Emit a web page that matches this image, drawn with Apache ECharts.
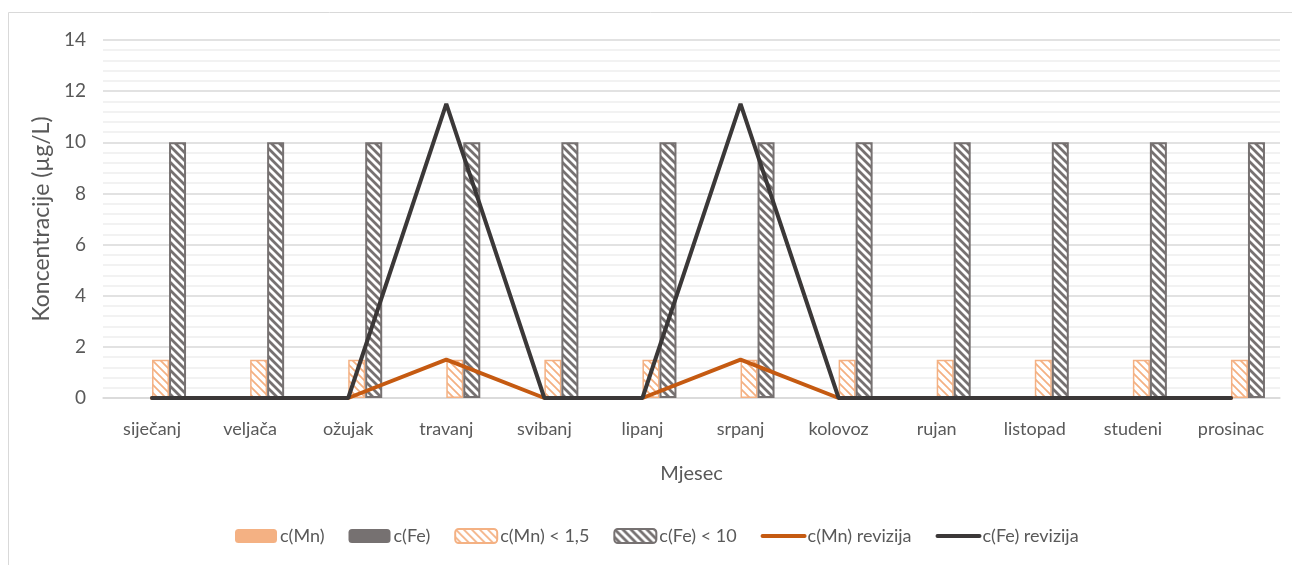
<!DOCTYPE html>
<html>
<head>
<meta charset="utf-8">
<script src="https://cdn.jsdelivr.net/npm/echarts@6/dist/echarts.min.js"></script>
<style>
  html, body { margin: 0; padding: 0; background: #fff; }
  #main { width: 1292px; height: 565px; }
</style>
</head>
<body>
<div id="main"></div>
<script>
// podaci
var months = ['siječanj', 'veljača', 'ožujak', 'travanj', 'svibanj', 'lipanj', 'srpanj', 'kolovoz', 'rujan', 'listopad', 'studeni', 'prosinac'];
var mn = [null, null, null, null, null, null, null, null, null, null, null, null];
var fe = [null, null, null, null, null, null, null, null, null, null, null, null];
var mnLimit = [1.5, 1.5, 1.5, 1.5, 1.5, 1.5, 1.5, 1.5, 1.5, 1.5, 1.5, 1.5];
var feLimit = [10, 10, 10, 10, 10, 10, 10, 10, 10, 10, 10, 10];
var mnRev = [0, 0, 0, 1.5, 0, 0, 1.5, 0, 0, 0, 0, 0];
var feRev = [0, 0, 0, 11.5, 0, 0, 11.5, 0, 0, 0, 0, 0];
var yTicks = [0, 2, 4, 6, 8, 10, 12, 14];

// crtkani uzorak za stupce
function hatch(color, lw, size) {
  var c = document.createElement('canvas');
  c.width = size; c.height = size;
  var ctx = c.getContext('2d');
  ctx.fillStyle = '#fff';
  ctx.fillRect(0, 0, size, size);
  ctx.strokeStyle = color;
  ctx.lineWidth = lw;
  ctx.beginPath();
  ctx.moveTo(-2, -2); ctx.lineTo(size + 2, size + 2);
  ctx.moveTo(-2, size - 2); ctx.lineTo(2, size + 2);
  ctx.moveTo(size - 2, -2); ctx.lineTo(size + 2, 2);
  ctx.stroke();
  return c;
}

var font = 'Lato';
var txt = '#595959';
var noDot = { color: 'rgba(0,0,0,0)', borderColor: 'rgba(0,0,0,0)', borderWidth: 0 };

var option = {
  animation: false,
  textStyle: { fontFamily: font },
  graphic: [{
    type: 'rect',
    shape: { x: 8.5, y: 12.5, width: 1300, height: 600 },
    style: { fill: 'none', stroke: '#d9d9d9', lineWidth: 1 },
    silent: true
  }],
  grid: { left: 103, right: 12, top: 40, bottom: 167 },
  legend: {
    left: 230,
    top: 522,
    itemWidth: 42,
    itemHeight: 14,
    itemGap: 24,
    lineStyle: { width: 4, cap: 'round' },
    textStyle: { color: txt, fontSize: 18, fontFamily: font, padding: [0, 0, 0, -2] },
    data: ['c(Mn)', 'c(Fe)', 'c(Mn) < 1,5', 'c(Fe) < 10', 'c(Mn) revizija', 'c(Fe) revizija']
  },
  xAxis: {
    type: 'category',
    data: months,
    name: 'Mjesec',
    nameLocation: 'middle',
    nameGap: 66,
    nameTextStyle: { color: txt, fontSize: 20, fontFamily: font },
    axisLine: { lineStyle: { color: '#d9d9d9', width: 1.5 } },
    axisTick: { show: false },
    axisLabel: { color: txt, fontSize: 18, margin: 22, fontFamily: font }
  },
  yAxis: {
    type: 'value',
    min: yTicks[0],
    max: yTicks[yTicks.length - 1],
    interval: 2,
    name: 'Koncentracije (µg/L)',
    nameLocation: 'middle',
    nameGap: 32,
    nameTextStyle: { color: txt, fontSize: 23, fontFamily: font },
    axisLine: { show: false },
    axisTick: { show: false },
    axisLabel: { color: txt, fontSize: 19, margin: 17, fontFamily: font },
    splitLine: { lineStyle: { color: '#d9d9d9', width: 1.5 } },
    minorTick: { show: false, splitNumber: 5 },
    minorSplitLine: { show: true, lineStyle: { color: '#eeeeee', width: 1.5 } }
  },
  series: [
    { name: 'c(Mn)', type: 'bar', data: mn, barWidth: 17, barGap: '0%', itemStyle: { color: '#F4B183' } },
    { name: 'c(Fe)', type: 'bar', data: fe, barWidth: 17, barGap: '0%', itemStyle: { color: '#767171' } },
    {
      name: 'c(Mn) < 1,5', type: 'bar', data: mnLimit, barWidth: 17, barGap: '0%',
      itemStyle: { color: { image: hatch('#F4B183', 1.8, 8), repeat: 'repeat' }, borderColor: '#F4B183', borderWidth: 1.5 }
    },
    {
      name: 'c(Fe) < 10', type: 'bar', data: feLimit, barWidth: 17, barGap: '0%',
      itemStyle: { color: { image: hatch('#767171', 2.8, 8), repeat: 'repeat' }, borderColor: '#767171', borderWidth: 2 }
    },
    {
      name: 'c(Mn) revizija', type: 'line', data: mnRev, symbol: 'circle', showSymbol: false,
      lineStyle: { color: '#C55A11', width: 4, cap: 'round' }, itemStyle: noDot
    },
    {
      name: 'c(Fe) revizija', type: 'line', data: feRev, symbol: 'circle', showSymbol: false,
      lineStyle: { color: '#3B3838', width: 4, cap: 'round' }, itemStyle: noDot
    }
  ]
};

var myChart = echarts.init(document.getElementById('main'));
myChart.setOption(option);
</script>
</body>
</html>
